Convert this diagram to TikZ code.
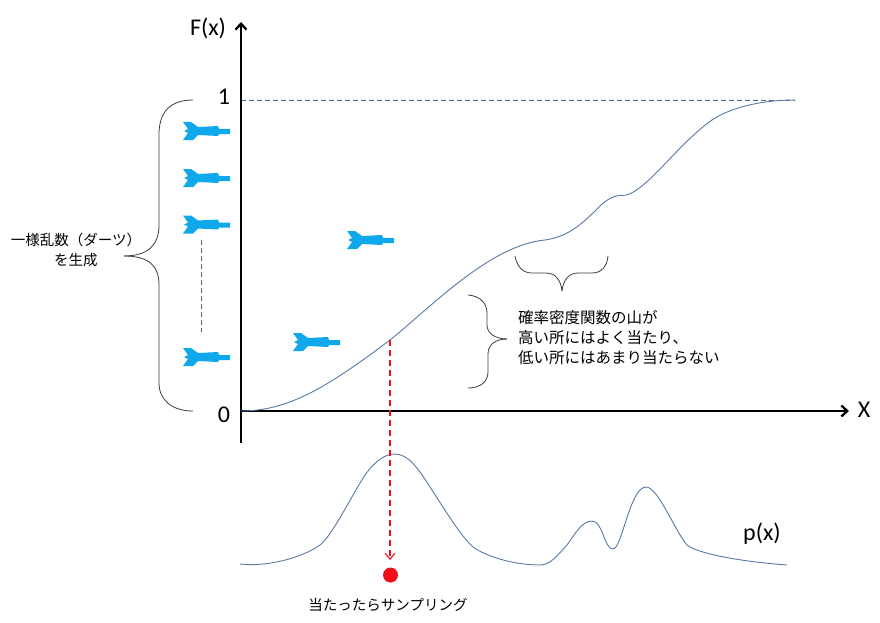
\documentclass[tikz,border=0pt]{standalone}
\usepackage{fontspec}
\setmainfont{Carlito}
\newfontfamily\jpfont{Noto Sans CJK JP}
\usetikzlibrary{arrows.meta}
\definecolor{colordart}  {RGB}{15 ,168,234}
\definecolor{colorcurve} {RGB}{88 ,120,165}
\definecolor{colordash}  {RGB}{70 ,105,145}
\definecolor{colorbrace} {RGB}{60 ,60 ,60 }
\definecolor{colorhit}   {RGB}{240,15 ,25 }

\begin{document}
\begin{tikzpicture}[
    x=1pt, y=-1pt,
    axis/.style={line width=2.3pt,black,-{Straight Barb[length=6pt,width=11pt,line width=2.3pt]}},
    curve/.style={line width=0.9pt,colorcurve},
    guide/.style={line width=0.7pt,colordash,dash pattern=on 5pt off 3pt},
    hitline/.style={line width=1.1pt,colorhit,dash pattern=on 6pt off 4pt,-{Straight Barb[length=6pt,width=10pt]}},
    bracket/.style={line width=0.8pt,colorbrace},
    label/.style={font={\fontsize{24}{26}\selectfont},inner sep=0pt},
    note/.style={font={\jpfont\fontsize{14.5}{20}\selectfont},inner sep=0pt},
    dart/.pic={
        \fill[colordart] (0,-9) -- (8,-9) -- (15,-4) -- (35,-5) -- (36,-2) -- (47,-2)
            -- (47,3) -- (36,3) -- (35,5) -- (15,4) -- (10,9) -- (0,9)
            -- (5,2) -- (1,0) -- (5,-2) -- cycle;
    },
]
    \useasboundingbox (0,0) rectangle (880,623);

    \coordinate (xstart) at (241,411);
    \coordinate (xend) at (849,411);
    \coordinate (ystart) at (241,443);
    \coordinate (yend) at (241,22);
    \coordinate (oneleft) at (241,100);
    \coordinate (oneright) at (795,100);
    \coordinate (hitstart) at (390,340);
    \coordinate (hitend) at (390,560);
    \coordinate (dotsup) at (201,240);
    \coordinate (dotslow) at (201,332);

    % axes and labels
    \draw[guide] (oneleft) -- (oneright);
    \draw[axis] (ystart) -- (yend);
    \draw[axis] (xstart) -- (xend);
    \node[label] (fxlabel) at (208,28) {F(x)};
    \node[label] (onelabel) at (224,97) {1};
    \node[label] (zerolabel) at (224,415) {0};
    \node[label] (xlabel) at (864,410) {X};
    \node[label] (pxlabel) at (762,534) {p(x)};

    % F(x)
    \draw[curve] (241,411) .. controls (290,411) and (330,385) .. (390,340)
        .. controls (430,308) and (490,245) .. (545,240)
        .. controls (565,237) and (578,228) .. (596,210)
        .. controls (606,199) and (615,195) .. (622,195.5)
        .. controls (632,196) and (645,184) .. (657,172)
        .. controls (673,156) and (692,134) .. (712,120)
        .. controls (730,108) and (760,100) .. (795,100);

    % p(x)
    \draw[curve] (240,564) .. controls (265,567) and (300,559) .. (320,545)
        .. controls (332,536) and (352,495) .. (365,475)
        .. controls (375,461) and (385,454) .. (395,454)
        .. controls (408,454) and (418,468) .. (430,487)
        .. controls (445,510) and (460,535) .. (473,547)
        .. controls (487,557) and (515,565) .. (540,565)
        .. controls (550,565) and (557,556) .. (567,545)
        .. controls (575,534) and (582,521) .. (592,521)
        .. controls (603,521) and (604,549) .. (613,549)
        .. controls (622,549) and (630,487) .. (646,487)
        .. controls (658,487) and (675,531) .. (687,545)
        .. controls (697,553) and (735,561) .. (787,565);

    % darts
    \pic (dartone) at (183,131) {dart};
    \pic (darttwo) at (183,178) {dart};
    \pic (dartthree) at (183,224.5) {dart};
    \pic (dartfour) at (183,357) {dart};
    \pic (dartfive) at (347,240) {dart};
    \pic (dartsix) at (293,342) {dart};
    \draw[guide] (dotsup) -- (dotslow);

    % braces
    \draw[bracket] (193,100) .. controls (170,100) and (160,112) .. (159,132)
        -- (159,225) .. controls (159,245) and (148,256) .. (124,256);
    \draw[bracket] (124,256) .. controls (148,256) and (159,265) .. (159,285)
        -- (159,383) .. controls (159,400) and (172,411) .. (193,411);
    \draw[bracket] (515,256) .. controls (517,266) and (522,273) .. (532,273)
        -- (546,273) .. controls (556,273) and (561,281) .. (562,291);
    \draw[bracket] (562,291) .. controls (563,281) and (568,273) .. (578,273)
        -- (592,273) .. controls (602,273) and (607,266) .. (608,256);
    \draw[bracket] (468,295) .. controls (480,296) and (487,303) .. (487,313)
        -- (487,325) .. controls (487,333) and (495,339) .. (507,339);
    \draw[bracket] (507,339) .. controls (495,339) and (488,345) .. (488,354)
        -- (488,372) .. controls (488,382) and (480,388) .. (468,388);

    % notes
    \node[note,align=center] (uniform) at (76,250) {一様乱数（ダーツ）\\を生成};
    \node[note,font={\jpfont\fontsize{15.5}{20}\selectfont},align=left,anchor=west] (densitynote) at (518,338) {確率密度関数の山が\\高い所にはよく当たり、\\低い所にはあまり当たらない};
    \node[note] (hitnote) at (388,605) {当たったらサンプリング};

    % sampling
    \draw[hitline] (hitstart) -- (hitend);
    \node[circle,fill=colorhit,minimum size=15pt,inner sep=0pt] (hitdot) at (390.5,575) {};
\end{tikzpicture}
\end{document}
